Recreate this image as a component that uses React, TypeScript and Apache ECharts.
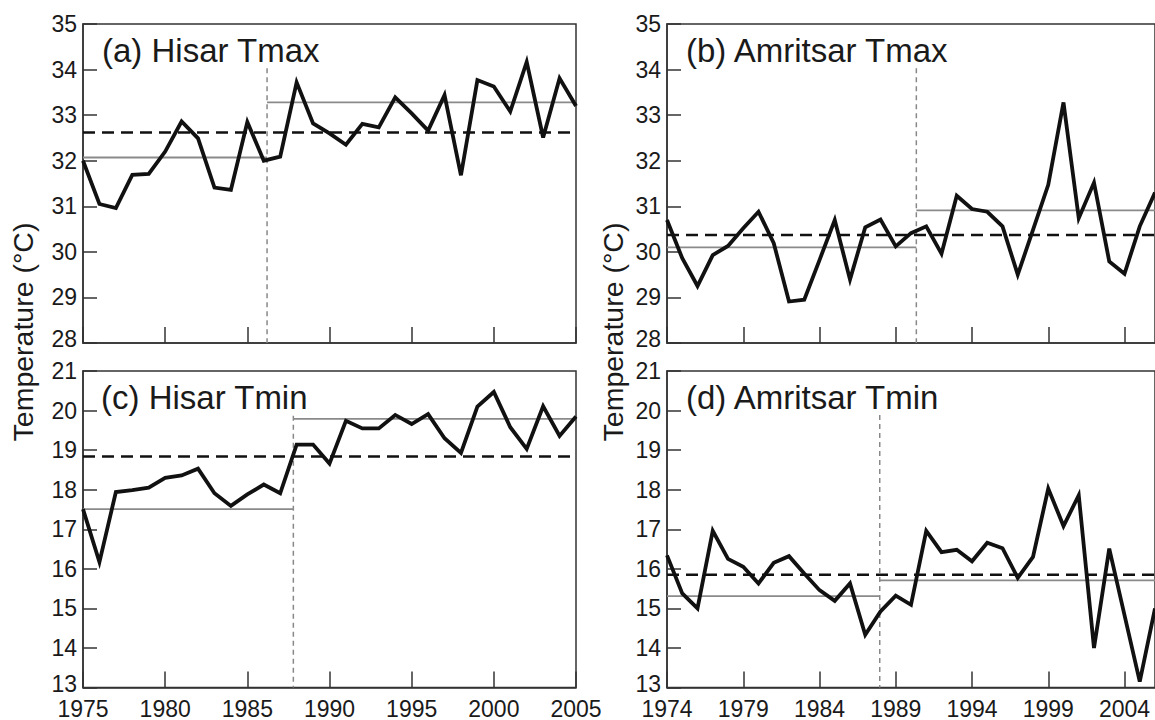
import React, { useEffect, useRef } from "react";
import * as echarts from "echarts";

// ---------- Data ----------
const hisarYears = [
  1975, 1976, 1977, 1978, 1979, 1980, 1981, 1982, 1983, 1984, 1985, 1986, 1987, 1988, 1989, 1990,
  1991, 1992, 1993, 1994, 1995, 1996, 1997, 1998, 1999, 2000, 2001, 2002, 2003, 2004, 2005,
];
const hisarTmax = [
  32.0, 31.05, 30.96, 31.69, 31.71, 32.2, 32.86, 32.49, 31.41, 31.36, 32.85, 32.0, 32.09, 33.72, 32.82, 32.6,
  32.35, 32.81, 32.73, 33.39, 33.04, 32.66, 33.44, 31.68, 33.77, 33.63, 33.08, 34.17, 32.51, 33.81, 33.2,
];
const hisarTmin = [
  17.51, 16.17, 17.94, 17.99, 18.05, 18.3, 18.36, 18.53, 17.91, 17.59, 17.88, 18.13, 17.91, 19.14, 19.14, 18.66,
  19.74, 19.55, 19.55, 19.89, 19.66, 19.91, 19.3, 18.93, 20.1, 20.47, 19.58, 19.03, 20.11, 19.36, 19.85,
];
const amritsarYears = [
  1974, 1975, 1976, 1977, 1978, 1979, 1980, 1981, 1982, 1983, 1984, 1985, 1986, 1987, 1988, 1989, 1990,
  1991, 1992, 1993, 1994, 1995, 1996, 1997, 1998, 1999, 2000, 2001, 2002, 2003, 2004, 2005, 2006,
];
const amritsarTmax = [
  30.7, 29.86, 29.25, 29.93, 30.13, 30.52, 30.88, 30.19, 28.91, 28.95, 29.82, 30.7, 29.39, 30.54, 30.71, 30.12, 30.41,
  30.56, 29.96, 31.23, 30.94, 30.88, 30.56, 29.5, 30.48, 31.47, 33.28, 30.74, 31.52, 29.79, 29.52, 30.56, 31.3,
];
const amritsarTmin = [
  16.34, 15.38, 15.0, 16.96, 16.25, 16.05, 15.63, 16.15, 16.32, 15.88, 15.46, 15.19, 15.63, 14.33, 14.92, 15.32, 15.09,
  16.96, 16.42, 16.48, 16.19, 16.66, 16.52, 15.77, 16.3, 18.03, 17.08, 17.86, 14.0, 16.51, 14.83, 13.15, 15.0,
];

// x tick labels
const hisarTicks = [1975, 1980, 1985, 1990, 1995, 2000, 2005];
const amritsarTicks = [1974, 1979, 1984, 1989, 1994, 1999, 2004];

// per-panel annotations: (a), (b), (c), (d)
const panelTitles = ["(a) Hisar Tmax", "(b) Amritsar Tmax", "(c) Hisar Tmin", "(d) Amritsar Tmin"];
const changeYears = [1986.2, 1990.35, 1987.8, 1987.95];
const changeLineTops = [34.03, 34.03, 19.87, 19.89];
const overallMeans = [32.62, 30.37, 18.84, 15.85];
const meansBefore = [32.07, 30.1, 17.51, 15.31];
const meansAfter = [33.28, 30.91, 19.79, 15.71];
const yMins = [28, 28, 13, 13];
const yMaxs = [35, 35, 21, 21];
const yAxisName = "Temperature (°C)";

// ---------- Layout / style ----------
const FONT = "'Liberation Sans', Arial, Helvetica, sans-serif";
const FRAME = "#333";
const grids = [
  { left: 83, top: 24, width: 493, height: 319 },
  { left: 667, top: 24, width: 492, height: 319 },
  { left: 83, top: 371, width: 493, height: 319 },
  { left: 667, top: 371, width: 492, height: 319 },
];
const titlePos = [
  [102, 50],
  [686, 50],
  [101, 397],
  [686, 397],
];

const panelYears = [hisarYears, amritsarYears, hisarYears, amritsarYears];
const panelValues = [hisarTmax, amritsarTmax, hisarTmin, amritsarTmin];
const panelTicks = [hisarTicks, amritsarTicks, hisarTicks, amritsarTicks];
const panelXRange = [
  [1975, 2005],
  [1974, 2006],
  [1975, 2005],
  [1974, 2006],
];

function buildOption() {
  const series: any[] = [];
  panelYears.forEach((years, i) => {
    const [xmin, xmax] = panelXRange[i];
    const base = { type: "line", xAxisIndex: i, yAxisIndex: i, symbol: "none", silent: true };
    series.push({
      ...base,
      data: [
        [xmin, meansBefore[i]],
        [changeYears[i], meansBefore[i]],
      ],
      lineStyle: { color: "#8a8a8a", width: 1.8 },
    });
    series.push({
      ...base,
      data: [
        [changeYears[i], meansAfter[i]],
        [xmax, meansAfter[i]],
      ],
      lineStyle: { color: "#8a8a8a", width: 1.8 },
    });
    series.push({
      ...base,
      data: [
        [changeYears[i], changeLineTops[i]],
        [changeYears[i], yMins[i]],
      ],
      lineStyle: { color: "#888", width: 1.5, type: [5, 4] },
    });
    series.push({
      ...base,
      data: [
        [xmin, overallMeans[i]],
        [xmax, overallMeans[i]],
      ],
      lineStyle: { color: "#111", width: 2.6, type: [12, 7] },
    });
    series.push({
      ...base,
      data: years.map((y, k) => [y, panelValues[i][k]]),
      lineStyle: { color: "#111", width: 3.8, join: "miter" },
    });
  });

  const xAxis = panelYears.map((_, i) => {
    const isBottom = i >= 2;
    const isLeft = i % 2 === 0;
    const [xmin, xmax] = panelXRange[i];
    const ax: any = {
      type: "value",
      gridIndex: i,
      min: xmin,
      max: xmax,
      axisLine: { show: true, lineStyle: { color: FRAME, width: 1.5 } },
      axisTick: { show: true, inside: true, length: 16, lineStyle: { color: FRAME, width: 1.5 } },
      axisLabel: {
        show: isBottom,
        fontSize: 23,
        lineHeight: 16,
        color: "#1a1a1a",
        margin: 13,
        fontFamily: FONT,
        formatter: (v: number) => String(v),
      },
      splitLine: { show: false },
    };
    if (isLeft) {
      ax.interval = 5;
    } else {
      ax.axisTick.customValues = panelTicks[i];
      ax.axisLabel.customValues = panelTicks[i];
    }
    return ax;
  });

  const yAxis = panelYears.map((_, i) => ({
    type: "value",
    gridIndex: i,
    min: yMins[i],
    max: yMaxs[i],
    interval: 1,
    axisLine: { show: true, lineStyle: { color: FRAME, width: 1.5 } },
    axisTick: { show: true, inside: true, length: 14, lineStyle: { color: FRAME, width: 1.5 } },
    axisLabel: {
      fontSize: 23,
      lineHeight: 16,
      color: "#1a1a1a",
      margin: 6,
      fontFamily: FONT,
      formatter: (v: number) => (v === yMins[i] ? `{lo|${v}}` : String(v)),
      rich: {
        lo: {
          fontSize: 23,
          lineHeight: 16,
          color: "#1a1a1a",
          fontFamily: FONT,
          padding: [0, 0, 8, 0],
        },
      },
    },
    splitLine: { show: false },
  }));

  const graphic: any[] = panelTitles.map((t, i) => ({
    type: "text",
    x: titlePos[i][0],
    y: titlePos[i][1],
    silent: true,
    style: {
      text: t,
      fontSize: 33,
      fontFamily: FONT,
      fill: "#1a1a1a",
      textAlign: "left",
      textVerticalAlign: "middle",
    },
  }));
  [
    [23, 332],
    [613, 332],
  ].forEach(([x, y]) => {
    graphic.push({
      type: "text",
      x,
      y,
      rotation: Math.PI / 2,
      silent: true,
      style: {
        text: yAxisName,
        fontSize: 28.5,
        fontFamily: FONT,
        fill: "#1a1a1a",
        textAlign: "center",
        textVerticalAlign: "middle",
      },
    });
  });

  return {
    animation: false,
    backgroundColor: "#fff",
    grid: grids.map((g) => ({
      ...g,
      show: true,
      borderColor: FRAME,
      borderWidth: 1.5,
      backgroundColor: "transparent",
      containLabel: false,
    })),
    xAxis,
    yAxis,
    series,
    graphic,
  };
}

export default function App() {
  const ref = useRef<HTMLDivElement>(null);
  useEffect(() => {
    if (!ref.current) return;
    const chart = echarts.init(ref.current, null, { renderer: "svg" });
    chart.setOption(buildOption() as any);
    return () => chart.dispose();
  }, []);
  return (
    <div
      ref={ref}
      style={{ position: "fixed", left: 0, top: 0, width: 1155, height: 720, background: "#fff" }}
    />
  );
}
